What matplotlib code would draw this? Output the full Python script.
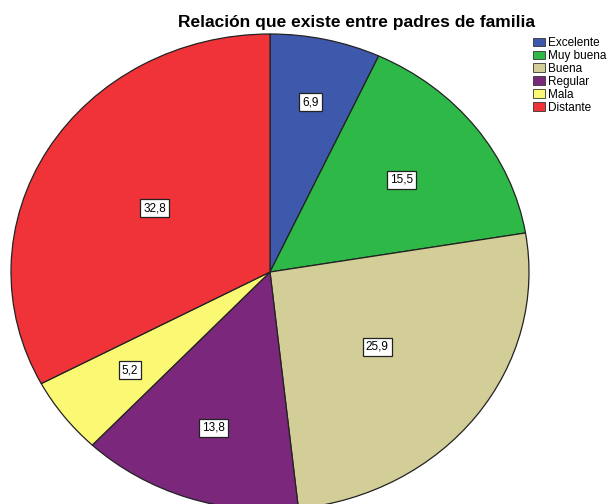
import numpy as np
import matplotlib
matplotlib.use("Agg")
import matplotlib.pyplot as plt
from matplotlib.patches import Patch

plt.rcParams["font.family"] = ["Liberation Sans", "DejaVu Sans"]

categories = ["Excelente", "Muy buena", "Buena", "Regular", "Mala", "Distante"]
values = [6.9, 15.5, 25.9, 13.8, 5.2, 32.8]
colors = ["#3E58AC", "#2EB848", "#D3CE97", "#7B287C", "#FBF873", "#EF3338"]
# radial distance of each value box from the centre (fraction of radius)
label_r = [0.73, 0.64, 0.52, 0.69, 0.68, 0.52]

fig = plt.figure(figsize=(6.08, 5.04), dpi=100)
# pie is drawn as an ellipse that runs off the bottom of the figure
ax = fig.add_axes([11 / 608, -6 / 504, 518 / 608, 476 / 504])
wedges, _ = ax.pie(values, colors=colors, startangle=90, counterclock=False,
                   wedgeprops=dict(edgecolor="#222222", linewidth=0.9))
ax.set_aspect("auto")
ax.set_xlim(-1, 1)
ax.set_ylim(-1, 1)

for w, v, r in zip(wedges, values, label_r):
    mid = np.deg2rad((w.theta1 + w.theta2) / 2)
    ax.text(r * np.cos(mid), r * np.sin(mid), f"{v:.1f}".replace(".", ","),
            ha="center", va="center", fontsize=8.5,
            bbox=dict(boxstyle="square,pad=0.25", facecolor="white",
                      edgecolor="#222222", linewidth=0.9))

fig.text(356 / 608, 1 - 22 / 504, "Relación que existe entre padres de familia",
         ha="center", va="center", fontsize=12.5, fontweight="bold")

handles = [Patch(facecolor=c, edgecolor="#333333", linewidth=0.6) for c in colors]
fig.legend(handles, categories, loc="upper left",
           bbox_to_anchor=(533 / 608, 1 - 37 / 504), frameon=False,
           fontsize=8.5, handlelength=1.0, handleheight=0.75,
           handletextpad=0.25, labelspacing=0.08, borderaxespad=0, borderpad=0)

fig.savefig("out.png", dpi=100)
